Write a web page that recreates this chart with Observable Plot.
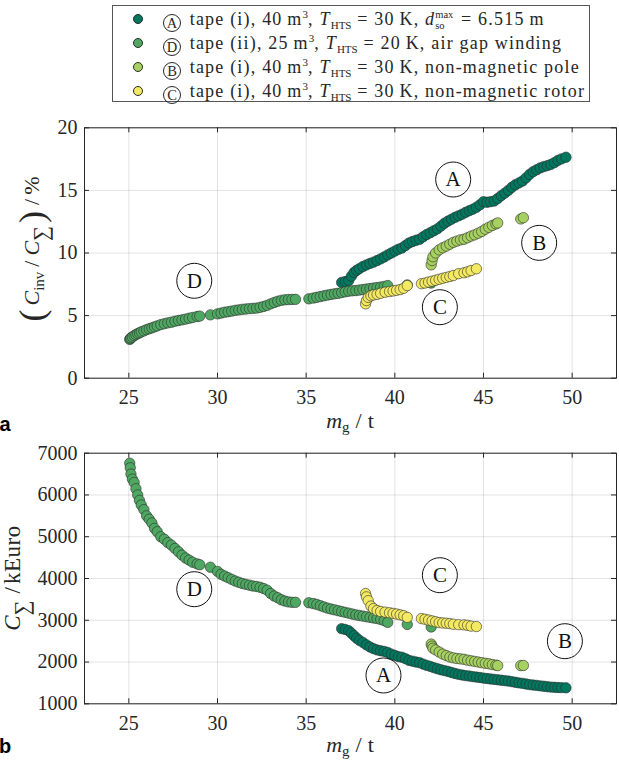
<!DOCTYPE html>
<html><head><meta charset="utf-8">
<script src="https://cdn.jsdelivr.net/npm/d3@7"></script>
<script src="https://cdn.jsdelivr.net/npm/@observablehq/plot@0.6"></script>
<style>
body{margin:0;background:#fff;}
#root{position:relative;width:619px;height:760px;overflow:hidden;font-family:"Liberation Serif","DejaVu Serif",serif;color:#262626;background:#fff}
#legend{position:absolute;left:112px;top:5px;width:476px;height:95px;border:1px solid #555;background:#fff}
.row{position:absolute;left:0;height:24px;line-height:24px;font-size:18px;letter-spacing:1.2px;white-space:nowrap}
.mk{position:absolute;left:20px;top:7px;width:10px;height:10px;border-radius:50%;border:0.7px solid #2a2a2a;box-sizing:border-box}
.txt{position:absolute;left:50px;top:0}
.circ{display:inline-block;width:16px;height:16px;border:1px solid #262626;border-radius:50%;text-align:center;line-height:16px;font-size:14.5px;letter-spacing:0;vertical-align:-3px;box-sizing:content-box;margin-right:3px}
sup{font-size:11px;vertical-align:7px;line-height:0;letter-spacing:0}
sub{font-size:11px;vertical-align:-4px;line-height:0;letter-spacing:0}
.stk{display:inline-flex;flex-direction:column;font-size:10.5px;line-height:11px;vertical-align:7px;letter-spacing:0;margin-right:2px}
.panel{position:absolute;left:0}
</style>
</head><body>
<div id="root">
  <div id="legend"></div>
  <div id="p1" class="panel" style="top:110px"></div>
  <div id="p2" class="panel" style="top:440px"></div>
</div>
<script>
// ---- data ----
const seriesNames = ["A", "D", "B", "C"];
const seriesColors = ["#00775f", "#4fa862", "#a6d160", "#f3e962"];

const aMass = [37.0,37.2,37.4,37.55,37.7,37.85,38.0,38.2,38.4,38.6,38.8,39.0,39.2,39.4,39.6,39.8,40.0,40.2,40.4,40.6,40.8,41.0,41.2,41.4,41.6,41.8,42.0,42.2,42.4,42.6,42.8,43.0,43.2,43.4,43.6,43.8,44.0,44.2,44.4,44.6,44.8,45.0,45.2,45.4,45.6,45.8,46.0,46.2,46.4,46.6,46.8,47.0,47.2,47.4,47.6,47.8,48.0,48.2,48.4,48.6,48.8,49.0,49.2,49.4,49.65];
const aRatio = [7.65,7.72,7.80,8.15,8.45,8.62,8.75,8.92,9.05,9.17,9.27,9.40,9.53,9.68,9.85,10.00,10.15,10.30,10.40,10.60,10.80,10.92,11.02,11.10,11.30,11.48,11.62,11.78,11.93,12.15,12.38,12.55,12.70,12.85,12.97,13.10,13.25,13.38,13.50,13.65,13.85,14.10,14.05,14.10,14.15,14.35,14.58,14.78,15.00,15.25,15.45,15.60,15.75,16.00,16.28,16.50,16.65,16.80,16.90,16.98,17.08,17.22,17.40,17.52,17.65];
const aCost = [2800,2780,2750,2690,2630,2570,2520,2470,2410,2360,2320,2290,2270,2255,2230,2190,2160,2130,2115,2080,2040,2020,2000,1985,1950,1920,1895,1865,1840,1815,1795,1775,1750,1725,1705,1690,1675,1665,1650,1640,1630,1615,1605,1595,1585,1575,1565,1555,1545,1530,1515,1500,1490,1475,1460,1450,1440,1430,1420,1410,1400,1395,1390,1388,1383];

const dMass = [25.05,25.08,25.12,25.2,25.3,25.4,25.5,25.6,25.7,25.85,26.0,26.15,26.3,26.45,26.6,26.8,27.0,27.2,27.4,27.6,27.8,28.0,28.2,28.4,28.6,28.85,29.0,29.6,30.0,30.2,30.4,30.6,30.8,31.0,31.2,31.4,31.6,31.8,32.0,32.2,32.4,32.6,32.8,33.0,33.2,33.4,33.6,33.8,34.0,34.2,34.4,35.15,35.4,35.6,35.8,36.0,36.2,36.4,36.6,36.8,37.0,37.2,37.4,37.6,37.8,38.0,38.2,38.4,38.6,38.8,39.0,39.2,39.4,39.6,40.7,42.05];
const dRatio = [3.10,3.15,3.22,3.30,3.40,3.48,3.56,3.62,3.70,3.78,3.88,3.95,4.02,4.10,4.18,4.28,4.35,4.42,4.47,4.55,4.61,4.66,4.72,4.79,4.85,4.93,4.96,5.06,5.14,5.20,5.27,5.31,5.36,5.42,5.46,5.50,5.53,5.56,5.58,5.60,5.66,5.73,5.82,5.94,6.05,6.15,6.22,6.26,6.28,6.29,6.30,6.34,6.40,6.46,6.52,6.58,6.64,6.69,6.74,6.78,6.84,6.90,6.95,6.98,7.00,7.04,7.08,7.12,7.16,7.20,7.24,7.28,7.33,7.40,7.45,7.60];
const dCost = [6760,6650,6500,6380,6300,6150,6000,5870,5760,5650,5500,5420,5330,5200,5120,5000,4940,4860,4800,4720,4640,4560,4490,4440,4390,4350,4330,4270,4170,4100,4060,4020,3980,3940,3910,3880,3860,3840,3820,3810,3790,3760,3720,3640,3580,3540,3490,3460,3440,3430,3430,3420,3400,3380,3350,3320,3290,3270,3250,3230,3210,3190,3170,3150,3130,3115,3100,3085,3070,3055,3040,3020,2990,2950,2900,2840];

const bMass = [42.05,42.1,42.15,42.3,42.5,42.7,42.9,43.1,43.3,43.5,43.7,43.9,44.1,44.3,44.5,44.7,44.9,45.1,45.3,45.5,45.7,45.8,47.1,47.25];
const bRatio = [9.05,9.40,9.70,10.00,10.25,10.42,10.55,10.70,10.85,10.95,11.05,11.10,11.22,11.35,11.45,11.58,11.72,11.90,12.05,12.20,12.32,12.40,12.72,12.82];
const bCost = [2430,2380,2330,2290,2240,2190,2155,2120,2100,2085,2075,2065,2045,2030,2015,2000,1985,1970,1958,1940,1925,1915,1915,1918];

const cMass = [38.35,38.4,38.5,38.65,38.8,39.0,39.2,39.45,39.7,39.9,40.1,40.3,40.5,40.7,41.5,41.7,41.9,42.1,42.3,42.5,42.7,42.9,43.1,43.3,43.6,43.9,44.1,44.3,44.6];
const cRatio = [5.94,6.20,6.45,6.58,6.65,6.70,6.78,6.87,6.92,6.97,7.02,7.08,7.18,7.40,7.55,7.60,7.68,7.75,7.82,7.90,7.98,8.05,8.12,8.20,8.35,8.42,8.50,8.60,8.74];
const cCost = [3640,3560,3470,3340,3280,3235,3210,3195,3180,3165,3150,3130,3110,3070,3040,3025,3005,2985,2965,2945,2935,2930,2920,2905,2895,2890,2880,2860,2850];

// annotation letters
const annNames = ["A", "B", "C", "D"];
const annMassTop = [43.29, 48.14, 42.54, 28.69];
const annRatio = [15.87, 10.81, 5.67, 7.78];
const annMassBottom = [39.36, 49.59, 42.54, 28.69];
const annCost = [1678, 2499, 4079, 3744];

// axes
const xDomain = [22.5, 52.5];
const xTicks = [25, 30, 35, 40, 45, 50];
const ratioDomain = [0, 20];
const ratioTicks = [0, 5, 10, 15, 20];
const costDomain = [1000, 7000];
const costTicks = [1000, 2000, 3000, 4000, 5000, 6000, 7000];

// ---- build ----
const SERIF = "'Liberation Serif', 'DejaVu Serif', serif";
function rows(name, mass, ratio, cost) {
  return mass.map((m, i) => ({series: name, mass: m, ratio: ratio[i], cost: cost[i]}));
}
const data = [
  ...rows("A", aMass, aRatio, aCost),
  ...rows("D", dMass, dRatio, dCost),
  ...rows("B", bMass, bRatio, bCost),
  ...rows("C", cMass, cRatio, cCost)
];
const annTop = annNames.map((n, i) => ({name: n, x: annMassTop[i], y: annRatio[i]}));
const annBottom = annNames.map((n, i) => ({name: n, x: annMassBottom[i], y: annCost[i]}));

function panel(yField, yDomain, yTicks, h, mt, mb, ann) {
  const W = 619, ml = 84, mr = 3;
  const innerW = W - ml - mr, innerH = h - mt - mb, tk = 5;
  const ink = "#262626";
  return Plot.plot({
    width: W, height: h, marginLeft: ml, marginRight: mr, marginTop: mt, marginBottom: mb,
    style: {fontFamily: SERIF, fontSize: "20px", color: ink, background: "transparent", overflow: "visible"},
    x: {domain: xDomain, label: null},
    y: {domain: yDomain, label: null},
    color: {domain: seriesNames, range: seriesColors},
    marks: [
      Plot.gridX(xTicks, {stroke: ink, strokeOpacity: 0.13}),
      Plot.gridY(yTicks, {stroke: ink, strokeOpacity: 0.13}),
      Plot.tickX(xTicks, {x: d => d, insetTop: innerH - tk, stroke: ink}),
      Plot.tickX(xTicks, {x: d => d, insetBottom: innerH - tk, stroke: ink}),
      Plot.tickY(yTicks, {y: d => d, insetRight: innerW - tk, stroke: ink}),
      Plot.tickY(yTicks, {y: d => d, insetLeft: innerW - tk, stroke: ink}),
      Plot.frame({stroke: ink, strokeWidth: 1}),
      Plot.axisX(xTicks, {tickSize: 0, tickPadding: 12, tickFormat: "d", label: null, fontFamily: SERIF}),
      Plot.axisY(yTicks, {tickSize: 0, tickPadding: 7, tickFormat: "d", label: null, fontFamily: SERIF}),
      Plot.dot(data, {x: "mass", y: yField, r: 5.2, fill: "series", stroke: "#2b2b2b", strokeWidth: 0.6}),
      Plot.dot(ann, {x: "x", y: "y", r: 17.5, stroke: "#111", strokeWidth: 1, fill: "none"}),
      Plot.text(ann, {x: "x", y: "y", text: "name", fontSize: 21, fontFamily: SERIF, lineAnchor: "middle", fill: "#111"})
    ]
  });
}

const svg1 = panel("ratio", ratioDomain, ratioTicks, 330, 17.3, 62.3, annTop);
const svg2 = panel("cost", costDomain, costTicks, 320, 12.7, 56.7, annBottom);

const FF = `font-family="${SERIF}"`;
const xLab = (y) => `<text x="350" y="${y}" text-anchor="middle" font-size="22" ${FF} fill="#262626" style="white-space:pre"><tspan font-style="italic">m</tspan><tspan font-size="15" baseline-shift="-4">g</tspan><tspan dx="6">/</tspan><tspan dx="6">t</tspan></text>`;

svg1.insertAdjacentHTML("beforeend",
  xLab(318) +
  `<text transform="translate(39,139) rotate(-90)" text-anchor="middle" font-size="22" ${FF} fill="#262626" style="white-space:pre"><tspan font-size="36" baseline-shift="-5">(</tspan><tspan dx="4" font-style="italic">C</tspan><tspan font-size="15" baseline-shift="-5">inv</tspan><tspan dx="5">/</tspan><tspan dx="5" font-style="italic">C</tspan><tspan font-size="21" baseline-shift="-9">∑</tspan><tspan dx="3" font-size="36" baseline-shift="-5">)</tspan><tspan dx="6">/</tspan><tspan dx="4">%</tspan></text>` +
  `<text x="5" y="321" font-family="'Liberation Sans', 'DejaVu Sans', sans-serif" font-weight="bold" font-size="20" fill="#000">a</text>`
);
svg2.insertAdjacentHTML("beforeend",
  xLab(312) +
  `<text transform="translate(20,138) rotate(-90)" text-anchor="middle" font-size="23" ${FF} fill="#262626" style="white-space:pre"><tspan font-style="italic">C</tspan><tspan font-size="21" baseline-shift="-9">∑</tspan><tspan dx="7">/</tspan><tspan dx="3" letter-spacing="0.5">kEuro</tspan></text>` +
  `<text x="5" y="313" font-family="'Liberation Sans', 'DejaVu Sans', sans-serif" font-weight="bold" font-size="20" fill="#000">b</text>`
);

document.getElementById("p1").appendChild(svg1);
document.getElementById("p2").appendChild(svg2);

// legend
const legendTexts = [
  ` tape (i), 40&#8201;m<sup>3</sup>, <i>T</i><sub>HTS</sub> = 30&#8201;K, <i>d</i><span class="stk"><span>max</span><span>so</span></span> = 6.515&#8201;m`,
  ` tape (ii), 25&#8201;m<sup>3</sup>, <i>T</i><sub>HTS</sub> = 20&#8201;K, air gap winding`,
  ` tape (i), 40&#8201;m<sup>3</sup>, <i>T</i><sub>HTS</sub> = 30&#8201;K, non-magnetic pole`,
  ` tape (i), 40&#8201;m<sup>3</sup>, <i>T</i><sub>HTS</sub> = 30&#8201;K, non-magnetic rotor`
];
const legend = document.getElementById("legend");
seriesNames.forEach((n, i) => {
  const row = document.createElement("div");
  row.className = "row";
  row.style.top = (1 + i * 24) + "px";
  row.innerHTML = `<span class="mk" style="background:${seriesColors[i]}"></span><span class="txt"><span class="circ">${n}</span>${legendTexts[i]}</span>`;
  legend.appendChild(row);
});
</script>
</body></html>
